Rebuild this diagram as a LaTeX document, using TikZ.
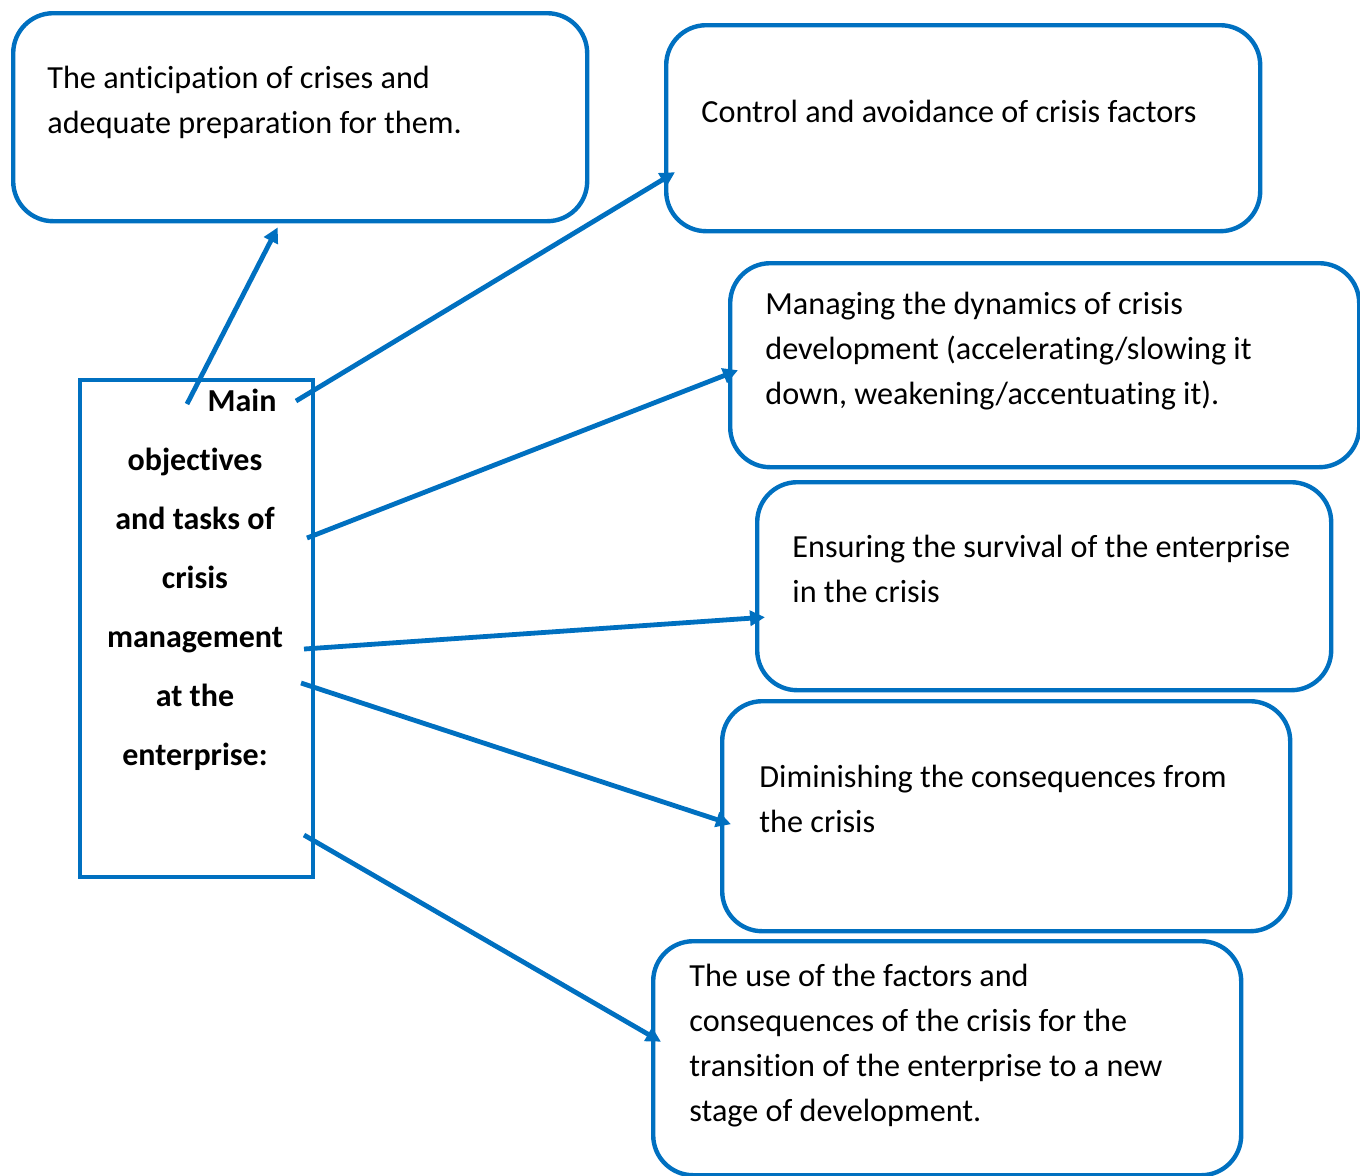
\documentclass[tikz,border=0pt]{standalone}
\usepackage{fontspec}
\setmainfont{Carlito}[Ligatures={NoCommon}]
\usetikzlibrary{arrows.meta,calc}
\definecolor{wordblue}{RGB}{0,112,192}

\begin{document}
\begin{tikzpicture}[
  x=0.5pt, y=-0.5pt,
  card/.style={draw=wordblue, line width=2.2pt, rounded corners=20pt, anchor=north west, inner sep=0pt},
  cardtext/.style={anchor=north west, align=left, inner sep=0pt, font=\fontsize{16.1}{22.5}\selectfont},
  mainbox/.style={draw=wordblue, line width=2.2pt, anchor=north west, inner sep=0pt},
  maintext/.style={anchor=north, align=center, inner sep=0pt, font=\bfseries\fontsize{16}{29.5}\selectfont},
  arr/.style={-{Triangle[length=7.5pt,width=7.5pt]}, draw=wordblue, line width=2.4pt}
]
\useasboundingbox (0,0) rectangle (1360,1175);

% central box
\node[mainbox, minimum width=116.5pt, minimum height=248.5pt] (main) at (78,378) {};
\node[maintext] (mainT) at (195,389) {\hspace*{47pt}Main\\objectives\\and tasks of\\crisis\\management\\at the\\enterprise:};

% objective boxes
\node[card, minimum width=287pt, minimum height=104pt] (ant) at (11,11) {};
\node[cardtext] (antT) at (47,66) {The anticipation of crises and\\adequate preparation for them.};

\node[card, minimum width=297pt, minimum height=103pt] (ctrl) at (664,23) {};
\node[cardtext] (ctrlT) at (701,100) {Control and avoidance of crisis factors};

\node[card, minimum width=314.5pt, minimum height=102pt] (dyn) at (728,261) {};
\node[cardtext] (dynT) at (765,292) {Managing the dynamics of crisis\\development (accelerating/slowing it\\down, weakening/accentuating it).};

\node[card, minimum width=287pt, minimum height=104pt] (surv) at (755,480) {};
\node[cardtext] (survT) at (792,535) {Ensuring the survival of the enterprise\\in the crisis};

\node[card, minimum width=284pt, minimum height=115pt] (dimin) at (720,699) {};
\node[cardtext] (diminT) at (759,765) {Diminishing the consequences from\\the crisis};

\node[card, minimum width=294pt, minimum height=117pt] (use) at (651,939) {};
\node[cardtext] (useT) at (689,964) {The use of the factors and\\consequences of the crisis for the\\transition of the enterprise to a new\\stage of development.};

% start points of the arrows
\coordinate (s1) at (187,404);
\coordinate (s2) at (296,401);
\coordinate (s3) at (307,538);
\coordinate (s4) at (304,649);
\coordinate (s5) at (301,683);
\coordinate (s6) at (304,835);

\draw[arr] (s1) -- ($(ant.south)+(-22.5,4)$);
\draw[arr] (s2) -- ($(ctrl.west)+(11,44)$);
\draw[arr] (s3) -- ($(dyn.west)+(10,5)$);
\draw[arr] (s4) -- ($(surv.west)+(10,31)$);
\draw[arr] (s5) -- ($(dimin.west)+(11,8)$);
\draw[arr] (s6) -- ($(use.west)+(10,-16.5)$);

\end{tikzpicture}
\end{document}
